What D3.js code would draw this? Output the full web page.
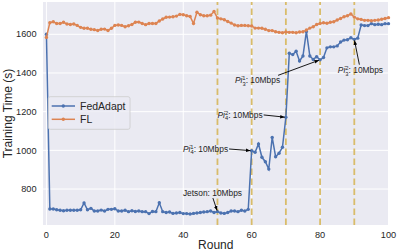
<!DOCTYPE html>
<meta charset="utf-8">
<style>
body { margin: 0; background: #fff; }
text { font-family: "Liberation Sans", Arial, sans-serif; fill: #262626; }
</style>
<body>
<script src="https://cdn.jsdelivr.net/npm/d3@7"></script>
<script>
// DATA
var rounds = d3.range(0, 101);
var fedAdapt = [1600, 697, 697, 693, 690, 688, 690, 690, 690, 690,
  693, 728, 693, 700, 686, 686, 691, 686, 695, 695,
  698, 686, 686, 690, 683, 688, 684, 686, 683, 683,
  673, 684, 683, 729, 683, 679, 681, 674, 676, 679,
  673, 673, 671, 674, 676, 679, 681, 683, 686, 679,
  683, 676, 674, 679, 686, 686, 683, 690, 686, 695,
  998, 990, 1033, 964, 941, 903, 1067, 967, 985, 1016,
  1171, 1502, 1495, 1512, 1462, 1488, 1615, 1488, 1470, 1484,
  1468, 1480, 1530, 1535, 1535, 1540, 1560, 1570, 1572, 1582,
  1574, 1580, 1648, 1645, 1645, 1655, 1650, 1652, 1650, 1655,
  1655];
var fl = [1584, 1660, 1665, 1656, 1656, 1662, 1653, 1651, 1653, 1646,
  1636, 1631, 1631, 1626, 1624, 1620, 1626, 1627, 1620, 1631,
  1646, 1648, 1646, 1639, 1644, 1651, 1662, 1663, 1656, 1650,
  1656, 1656, 1656, 1669, 1679, 1688, 1689, 1691, 1694, 1703,
  1701, 1696, 1692, 1656, 1714, 1701, 1696, 1696, 1699, 1718,
  1684, 1680, 1675, 1666, 1658, 1648, 1644, 1646, 1646, 1644,
  1643, 1632, 1632, 1631, 1626, 1619, 1619, 1613, 1610, 1608,
  1612, 1610, 1610, 1608, 1612, 1613, 1622, 1632, 1639, 1651,
  1656, 1660, 1657, 1662, 1665, 1674, 1682, 1691, 1696, 1705,
  1689, 1680, 1677, 1672, 1672, 1670, 1672, 1674, 1678, 1682,
  1686];
var seriesNames = ["FedAdapt", "FL"];
var xTicks = [0, 20, 40, 60, 80, 100];
var yTicks = [800, 1000, 1200, 1400, 1600];
var changeRounds = [50, 60, 70, 80, 90];

// annotations: device, superscript, subscript, pointed round, text anchor (round, seconds)
var annBase = ["Jetson", "Pi", "Pi", "Pi", "Pi"];
var annSup = ["", "1", "2", "1", "2"];
var annSub = ["", "4", "4", "3", "3"];
var annRound = [50, 60, 70, 80, 90];
var annTextRound = [39.9, 39.9, 50, 55.1, 85.2];
var annTextValue = [781, 1007, 1183, 1363, 1413];

var width = 399, height = 252;
var svg = d3.select("body").append("svg")
  .attr("width", width).attr("height", height);
svg.append("rect").attr("width", width).attr("height", height).attr("fill", "#fff");

var x = d3.scaleLinear().domain([-1, 100]).range([43, 388.5]);
var y = d3.scaleLinear().domain([614, 1767]).range([225, 2]);

// plot background
svg.append("rect")
  .attr("x", x(-1)).attr("y", y(1767))
  .attr("width", x(100) - x(-1)).attr("height", y(614) - y(1767))
  .attr("fill", "#EAEAF2");

// grid
svg.append("g").selectAll("line").data(xTicks).enter().append("line")
  .attr("x1", d => x(d)).attr("x2", d => x(d))
  .attr("y1", y(614)).attr("y2", y(1767))
  .attr("stroke", "#fff").attr("stroke-width", 1);
svg.append("g").selectAll("line").data(yTicks).enter().append("line")
  .attr("x1", x(-1)).attr("x2", x(100))
  .attr("y1", d => y(d)).attr("y2", d => y(d))
  .attr("stroke", "#fff").attr("stroke-width", 1);

// tick labels
svg.append("g").selectAll("text").data(xTicks).enter().append("text")
  .attr("x", d => x(d)).attr("y", 237.5)
  .attr("text-anchor", "middle").attr("font-size", 9.2).text(d => d);
svg.append("g").selectAll("text").data(yTicks).enter().append("text")
  .attr("x", 36.5).attr("y", d => y(d) + 3.2)
  .attr("text-anchor", "end").attr("font-size", 9.2).text(d => d);

// axis labels
svg.append("text").attr("x", (x(-1) + x(100)) / 2).attr("y", 249)
  .attr("text-anchor", "middle").attr("font-size", 12).text("Round");
svg.append("text").attr("transform", "translate(12.3," + ((y(614) + y(1767)) / 2) + ") rotate(-90)")
  .attr("text-anchor", "middle").attr("font-size", 12).text("Training Time (s)");

// bandwidth change markers
svg.append("g").selectAll("line").data(changeRounds).enter().append("line")
  .attr("x1", d => x(d)).attr("x2", d => x(d))
  .attr("y1", y(614)).attr("y2", y(1767))
  .attr("stroke", "#D9BC6A").attr("stroke-width", 1.8)
  .attr("stroke-dasharray", "6.5,3.5");

// series
var colors = ["#4C72B0", "#DD8452"];
[fedAdapt, fl].forEach(function (vals, i) {
  var line = d3.line().x((d, j) => x(rounds[j])).y(d => y(d));
  var g = svg.append("g");
  g.append("path").datum(vals).attr("d", line)
    .attr("fill", "none").attr("stroke", colors[i]).attr("stroke-width", 1.5);
  g.selectAll("circle").data(vals).enter().append("circle")
    .attr("cx", (d, j) => x(rounds[j])).attr("cy", d => y(d))
    .attr("r", 1.7).attr("fill", colors[i]);
});

// legend
var lg = svg.append("g");
lg.append("rect").attr("x", 48.3).attr("y", 96.7).attr("width", 81.7).attr("height", 32.6)
  .attr("rx", 2).attr("fill", "#EAEAF2").attr("fill-opacity", 0.8)
  .attr("stroke", "#cccccc").attr("stroke-width", 0.8);
seriesNames.forEach(function (n, i) {
  var ly = 106 + i * 13.3;
  lg.append("line").attr("x1", 51.7).attr("x2", 75).attr("y1", ly).attr("y2", ly)
    .attr("stroke", colors[i]).attr("stroke-width", 1.5);
  lg.append("circle").attr("cx", 63.3).attr("cy", ly).attr("r", 1.7).attr("fill", colors[i]);
  lg.append("text").attr("x", 80).attr("y", ly + 3.7).attr("font-size", 10.5).text(n);
});

// annotations
svg.append("defs").append("marker")
  .attr("id", "head").attr("viewBox", "0 0 10 10").attr("refX", 10).attr("refY", 5)
  .attr("markerWidth", 5).attr("markerHeight", 5).attr("orient", "auto")
  .append("path").attr("d", "M0,1L10,5L0,9z").attr("fill", "#000");

annBase.forEach(function (b, i) {
  var tx = x(annTextRound[i]), ty = y(annTextValue[i]);
  var t = svg.append("text").attr("x", tx).attr("y", ty + 2.9).attr("font-size", 8.4);
  if (annSup[i]) {
    t.append("tspan").attr("font-style", "italic").text(b);
    t.append("tspan").attr("font-size", 5.8).attr("dy", -3.2).text(annSup[i]);
    t.append("tspan").attr("font-size", 5.8).attr("dx", -3.2).attr("dy", 5.7).text(annSub[i]);
    t.append("tspan").attr("dy", -2.5).text(": 10Mbps");
  } else {
    t.text(b + ": 10Mbps");
  }
  var bb = t.node().getBBox();
  var px = x(annRound[i]), py = y(fedAdapt[annRound[i]]);
  // start the arrow from the text box edge nearest to the point
  var sx, sy;
  if (i === 0) { sx = tx + 30; sy = bb.y + bb.height + 0.5; }
  else if (i === 4) { sx = tx + 21.5; sy = bb.y - 0.5; }
  else if (i === 3) { sx = bb.x + bb.width - 2; sy = bb.y + 0.5; }
  else { sx = bb.x + bb.width + 1; sy = ty; }
  var dx = px - sx, dy = py - sy, len = Math.sqrt(dx * dx + dy * dy);
  svg.append("line").attr("x1", sx).attr("y1", sy)
    .attr("x2", px - dx / len * 1.2).attr("y2", py - dy / len * 1.2)
    .attr("stroke", "#000").attr("stroke-width", 0.9)
    .attr("marker-end", "url(#head)");
});
</script>
</body>
